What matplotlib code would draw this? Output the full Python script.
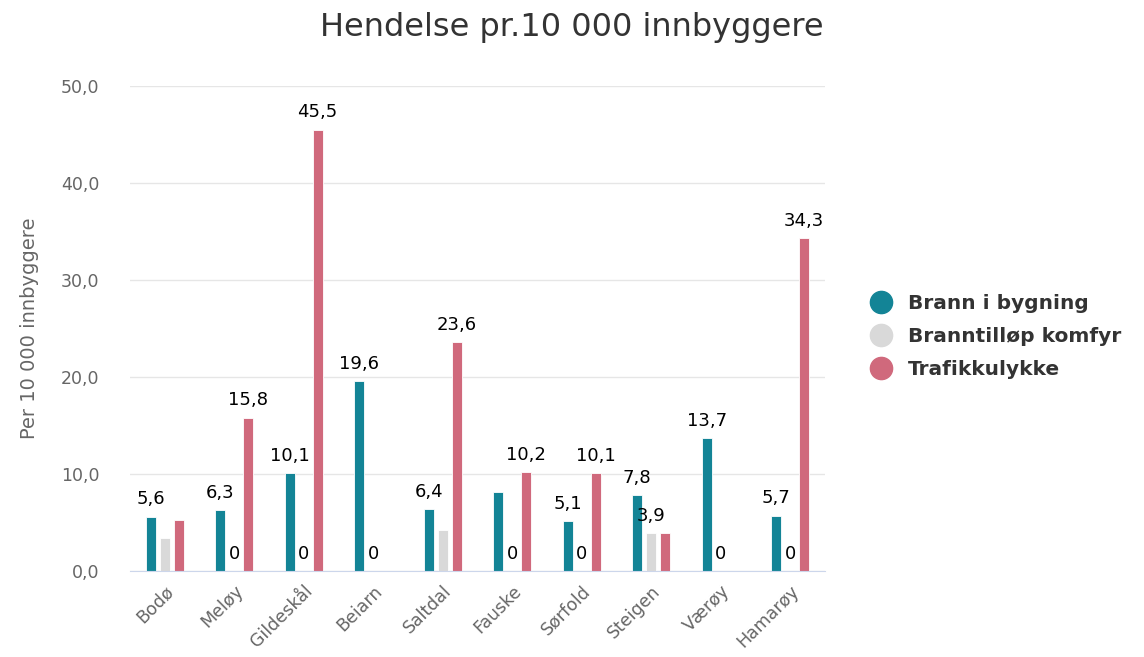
import matplotlib.pyplot as plt
import numpy as np
from matplotlib.lines import Line2D

kommuner = ["Bodø", "Meløy", "Gildeskål", "Beiarn", "Saltdal",
            "Fauske", "Sørfold", "Steigen", "Værøy", "Hamarøy"]
brann = [5.6, 6.3, 10.1, 19.6, 6.4, 8.1, 5.1, 7.8, 13.7, 5.7]
komfyr = [3.4, 0, 0, 0, 4.2, 0, 0, 3.9, 0, 0]
trafikk = [5.3, 15.8, 45.5, 0, 23.6, 10.2, 10.1, 3.9, 0, 34.3]

# labels that are visible in the chart (others hidden by overlap)
brann_lbl = ["5,6", "6,3", "10,1", "19,6", "6,4", None, "5,1", "7,8", "13,7", "5,7"]
komfyr_lbl = [None, "0", "0", "0", None, "0", "0", "3,9", "0", "0"]
trafikk_lbl = [None, "15,8", "45,5", None, "23,6", "10,2", "10,1", None, None, "34,3"]

navn = ["Brann i bygning", "Branntilløp komfyr", "Trafikkulykke"]
farger = ["#138496", "#d9d9d9", "#d0697c"]

plt.rcParams['font.family'] = 'DejaVu Sans'
fig = plt.figure(figsize=(11.44, 6.57), dpi=100)
ax = fig.add_axes([0.1136, 0.131, 0.6075, 0.738])

x = np.arange(len(kommuner))
w = 0.145
off = 0.2
serier = [brann, komfyr, trafikk]
etiketter = [brann_lbl, komfyr_lbl, trafikk_lbl]
for i, (vals, lbls) in enumerate(zip(serier, etiketter)):
    xs = x + (i - 1) * off
    ax.bar(xs, vals, width=w, color=farger[i], zorder=3, edgecolor='white', linewidth=0.6)
    for xi, v, l in zip(xs, vals, lbls):
        if l is None:
            continue
        ax.annotate(l, (xi, v), xytext=(0, 6), textcoords='offset points',
                    ha='center', va='bottom', fontsize=13, color='black', zorder=5)

ax.set_xlim(-0.5, len(kommuner) - 0.5)
ax.set_ylim(0, 50)
ax.set_yticks(range(0, 51, 10))
ax.set_yticklabels([f"{t},0" for t in range(0, 51, 10)])
ax.set_xticks(x)
ax.set_xticklabels(kommuner, rotation=45, ha='right', rotation_mode='anchor')
ax.tick_params(axis='both', length=0, labelsize=12.5, labelcolor='#666666')
ax.tick_params(axis='y', pad=22)
ax.tick_params(axis='x', pad=8)
ax.grid(axis='y', color='#e6e6e6', linewidth=1, zorder=0)
for s in ['top', 'right', 'left']:
    ax.spines[s].set_visible(False)
ax.spines['bottom'].set_color('#ccd6eb')
ax.spines['bottom'].set_zorder(4)

ax.set_ylabel("Per 10 000 innbyggere", fontsize=14, color='#666666', labelpad=16)
fig.suptitle("Hendelse pr.10 000 innbyggere", fontsize=23, color='#333333', y=0.982)

handles = [Line2D([], [], marker='o', linestyle='', markersize=16,
                  markerfacecolor=c, markeredgecolor=c) for c in farger]
leg = fig.legend(handles, navn, loc='center left', bbox_to_anchor=(0.737, 0.488),
                 frameon=False, handletextpad=0.3, labelspacing=0.7,
                 prop={'weight': 'bold', 'size': 14.5})
for t in leg.get_texts():
    t.set_color('#333333')

fig.savefig("out.png", dpi=100)
